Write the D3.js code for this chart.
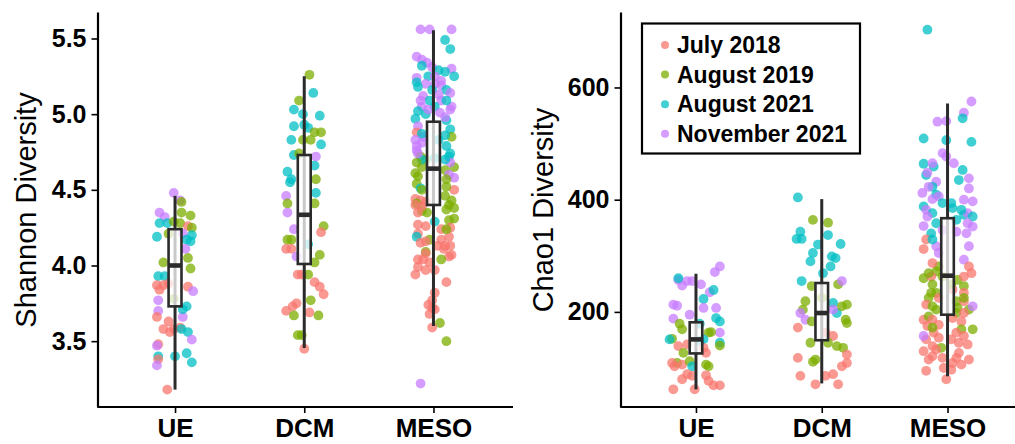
<!DOCTYPE html>
<html>
<head>
<meta charset="utf-8">
<script src="https://cdn.jsdelivr.net/npm/d3@7"></script>
<style>
  body { margin: 0; background: #fff; }
  svg { display: block; font-family: "Liberation Sans", Arial, sans-serif; }
</style>
</head>
<body>
<svg width="1015" height="444"></svg>
<script>
var sites = ["UE", "DCM", "MESO"];
var months = ["July 2018", "August 2019", "August 2021", "November 2021"];
var monthColors = ["#F8766D", "#7CAE00", "#00BFC4", "#C77CFF"];
var shannonTicks = [3.5, 4.0, 4.5, 5.0, 5.5];
var chaoTicks = [200, 400, 600];

// samples: [month index, jitter (share of category step), value]
var shannonUE = [
  [3,-0.01,4.48],[3,0.04,4.43],[1,0.05,4.42],[1,0.12,4.33],[1,0.05,4.35],[3,-0.08,4.32],[3,-0.12,4.35],
  [2,-0.12,4.28],[2,-0.06,4.28],[1,-0.01,4.29],[1,0.04,4.28],[0,0.10,4.26],[1,0.13,4.25],
  [2,-0.14,4.19],[2,0.13,4.20],[2,0.12,4.16],[3,0.06,4.21],[2,0.09,4.17],[1,-0.05,4.21],
  [1,-0.09,4.02],[1,0.10,4.05],[3,0.08,4.11],[1,0.12,3.98],[2,-0.13,3.93],[2,-0.08,3.93],
  [0,-0.14,3.87],[0,-0.09,3.87],[0,-0.12,3.84],[0,-0.05,3.88],[0,0.10,3.86],[3,0.14,3.83],
  [3,-0.13,3.77],[1,-0.01,3.78],[3,-0.13,3.70],[2,0.09,3.73],[0,-0.14,3.66],[3,0.06,3.66],
  [2,0.06,3.71],[0,-0.05,3.63],[0,-0.09,3.58],[0,-0.04,3.56],[0,-0.01,3.58],[0,0.04,3.59],
  [2,0.05,3.58],[2,0.10,3.56],[3,0.13,3.51],[0,-0.13,3.48],[3,-0.14,3.47],[2,-0.13,3.40],
  [0,-0.13,3.38],[3,-0.14,3.34],[2,0.00,3.40],[2,0.09,3.42],[2,0.13,3.36],[0,-0.06,3.18]
];
var shannonDCM = [
  [1,0.04,5.26],[2,0.07,5.14],[1,-0.04,5.09],[2,-0.08,5.03],[2,-0.01,5.00],[2,0.12,4.99],
  [2,-0.08,4.92],[2,0.00,4.93],[2,0.03,4.91],[1,0.08,4.88],[1,0.13,4.88],[2,-0.10,4.83],
  [1,-0.01,4.83],[1,0.05,4.83],[2,0.13,4.80],[2,-0.08,4.73],[1,-0.04,4.74],[3,0.09,4.72],
  [2,0.08,4.66],[2,-0.13,4.62],[2,-0.10,4.57],[2,-0.11,4.55],[1,0.09,4.57],[3,-0.14,4.46],
  [1,-0.13,4.41],[2,0.09,4.48],[1,0.08,4.41],[3,-0.13,4.35],[1,0.15,4.26],[0,0.13,4.22],
  [3,-0.08,4.24],[1,-0.13,4.17],[1,-0.10,4.17],[2,0.03,4.14],[0,-0.14,4.11],[0,-0.10,4.11],
  [3,-0.06,4.06],[1,0.12,4.07],[1,0.08,4.02],[0,-0.05,3.94],[0,-0.02,3.94],[1,0.03,3.94],
  [0,0.08,3.89],[0,0.12,3.86],[0,0.15,3.81],[1,0.05,3.77],[0,-0.06,3.75],[0,-0.09,3.73],
  [0,-0.14,3.70],[1,-0.08,3.67],[0,0.04,3.69],[1,0.11,3.67],[1,-0.05,3.54],[1,-0.02,3.54],
  [0,0.00,3.45]
];
var shannonMESO = [
  [3,-0.10,5.56],[3,-0.03,5.56],[3,0.14,5.56],[2,0.09,5.49],[2,0.13,5.43],[3,-0.13,5.38],
  [3,-0.09,5.36],[3,-0.05,5.34],[2,-0.09,5.32],[3,-0.01,5.31],[2,0.04,5.29],[3,0.14,5.30],
  [2,0.09,5.28],[2,0.16,5.25],[2,-0.04,5.25],[3,-0.13,5.24],[2,-0.13,5.21],[3,-0.06,5.20],
  [3,0.01,5.20],[3,0.06,5.19],[2,-0.12,5.18],[2,0.10,5.16],[3,0.13,5.14],[3,-0.08,5.12],
  [2,-0.03,5.09],[3,0.06,5.09],[3,-0.09,5.05],[2,0.01,5.05],[3,0.14,5.05],[3,0.13,5.03],
  [2,-0.12,5.02],[2,-0.06,5.00],[3,0.05,5.01],[2,-0.14,4.97],[2,0.10,4.96],[3,-0.12,4.92],
  [2,0.13,4.90],[0,-0.13,4.88],[3,-0.08,4.85],[1,0.14,4.85],[2,0.04,4.83],[3,-0.13,4.79],
  [2,0.10,4.79],[3,-0.13,4.76],[2,0.13,4.74],[1,-0.10,4.72],[1,-0.06,4.70],[2,0.12,4.72],
  [2,0.01,4.71],[1,0.16,4.65],[3,0.13,4.68],[1,-0.09,4.65],[1,-0.14,4.61],[1,-0.12,4.59],
  [1,0.09,4.63],[3,0.12,4.60],[3,0.16,4.58],[1,-0.13,4.54],[1,0.10,4.57],[2,-0.10,4.51],
  [0,-0.14,4.44],[0,-0.10,4.43],[0,-0.06,4.42],[1,-0.13,4.41],[0,0.16,4.50],[0,-0.14,4.40],
  [1,0.12,4.40],[1,0.16,4.38],[1,-0.09,4.36],[1,-0.05,4.35],[1,0.10,4.37],[1,0.16,4.31],
  [2,0.01,4.29],[0,-0.12,4.27],[0,-0.06,4.26],[1,0.12,4.30],[0,0.06,4.24],[0,-0.12,4.21],
  [2,-0.13,4.19],[0,0.13,4.25],[0,0.12,4.19],[0,0.06,4.17],[1,-0.03,4.17],[0,-0.10,4.15],
  [0,-0.06,4.16],[0,0.03,4.13],[0,0.08,4.11],[1,-0.06,4.09],[0,0.14,4.07],[0,0.12,4.06],
  [0,-0.08,4.04],[0,-0.03,4.02],[1,0.06,4.04],[0,-0.12,3.99],[0,-0.06,3.97],[0,0.01,3.97],
  [0,-0.14,3.94],[0,0.10,3.89],[0,0.01,3.82],[0,-0.01,3.77],[0,-0.04,3.74],[0,-0.01,3.72],
  [0,0.01,3.71],[0,-0.03,3.68],[1,0.05,3.62],[0,-0.01,3.59],[1,0.10,3.50],[3,-0.10,3.22],
  [3,0.01,5.25],[3,0.06,5.22],[2,-0.01,5.16],[3,0.04,5.13],[3,-0.10,5.09],[2,0.10,5.09],
  [3,-0.04,5.03],[3,0.09,4.98],[2,-0.09,4.87],[3,-0.14,4.83],[2,0.09,4.86],[3,-0.09,4.81],
  [2,-0.09,4.70],[1,-0.13,4.68],[2,0.09,4.70],[3,-0.12,4.74],[1,0.10,4.52],[1,0.09,4.46],
  [1,-0.09,4.50],[0,-0.09,4.39],[1,0.14,4.43],[0,-0.12,4.35],[1,0.10,4.24],[0,0.09,4.13],
  [0,-0.06,4.08],[0,-0.12,4.04],[0,0.13,4.13]
];
var chaoUE = [
  [3,0.19,281],[3,0.15,271],[3,-0.14,257],[3,-0.11,247],[3,-0.07,255],[3,-0.03,255],
  [2,-0.14,260],[3,0.04,249],[3,0.11,235],[2,0.14,239],[2,0.06,223],[3,-0.18,213],
  [3,-0.15,211],[3,0.16,207],[3,0.06,207],[3,-0.18,188],[2,0.16,189],[2,0.19,183],
  [3,-0.05,195],[2,0.03,179],[3,0.19,163],[1,-0.13,179],[1,-0.11,169],[1,-0.19,152],
  [2,-0.21,151],[1,0.10,163],[1,0.12,164],[2,0.03,148],[2,0.06,151],[2,0.19,145],
  [1,0.19,140],[0,-0.14,139],[0,-0.07,142],[1,-0.10,127],[0,0.08,127],[0,0.06,136],
  [1,-0.15,109],[0,-0.19,109],[0,-0.17,103],[0,-0.11,106],[1,-0.05,112],[1,0.08,106],
  [1,0.10,103],[2,-0.03,103],[0,-0.07,89],[0,-0.03,86],[0,0.08,87],[0,-0.11,80],
  [0,0.10,77],[0,0.14,69],[0,0.19,69],[0,-0.18,62],[0,-0.01,62]
];
var chaoDCM = [
  [2,-0.19,404],[1,-0.07,364],[1,0.05,359],[2,-0.17,343],[2,-0.20,330],[2,-0.16,330],
  [2,0.05,337],[2,-0.03,320],[2,0.15,321],[2,-0.07,305],[2,-0.09,290],[2,0.08,299],
  [2,0.11,296],[2,0.07,281],[2,0.01,269],[2,-0.16,255],[1,0.13,249],[3,0.16,255],
  [1,-0.08,246],[1,-0.13,219],[1,-0.15,204],[1,0.00,225],[3,-0.17,198],[2,0.09,216],
  [2,0.12,198],[1,0.20,213],[1,0.16,210],[3,0.09,204],[3,-0.13,186],[1,-0.08,183],
  [1,0.20,180],[1,0.19,186],[0,-0.19,172],[1,-0.09,145],[0,0.03,163],[0,0.09,157],
  [1,0.05,145],[1,0.12,139],[1,0.17,136],[0,-0.19,118],[0,0.20,124],[1,-0.05,115],
  [1,-0.07,111],[0,0.16,103],[0,0.20,109],[0,-0.17,86],[0,0.03,86],[0,0.09,89],
  [0,-0.05,71],[0,0.13,71]
];
var chaoMESO = [
  [2,-0.16,703],[3,0.19,575],[3,0.13,555],[3,-0.08,539],[3,-0.01,540],[2,0.12,545],
  [2,-0.19,509],[2,-0.01,506],[2,0.19,503],[3,-0.04,483],[3,-0.01,477],[2,-0.19,464],
  [2,-0.11,459],[3,-0.12,465],[3,0.05,465],[2,0.12,453],[2,-0.17,444],[3,-0.16,448],
  [2,0.09,435],[3,-0.09,432],[3,0.17,438],[2,-0.12,423],[3,0.17,420],[3,-0.20,412],
  [2,-0.09,409],[3,-0.12,401],[2,0.03,394],[3,0.20,397],[2,-0.19,388],[3,-0.17,382],
  [2,-0.12,376],[2,0.13,373],[2,0.04,385],[3,0.16,376],[2,0.20,370],[2,-0.09,358],
  [3,-0.19,353],[3,0.20,352],[3,0.07,343],[2,-0.13,340],[3,0.15,340],[3,-0.09,317],
  [3,-0.07,305],[3,0.17,317],[0,-0.17,329],[0,-0.19,312],[3,0.13,293],[0,0.17,281],
  [0,0.19,269],[1,-0.09,272],[1,-0.07,281],[1,-0.19,260],[0,-0.13,263],[1,0.08,257],
  [0,0.04,240],[1,-0.12,249],[1,0.13,246],[1,-0.09,234],[1,0.07,219],[0,0.13,234],
  [1,-0.15,225],[0,-0.17,213],[1,-0.09,204],[0,0.13,219],[1,0.17,204],[1,0.07,198],
  [0,-0.19,186],[1,-0.15,192],[0,0.04,189],[0,0.11,183],[3,0.20,210],[1,0.11,169],
  [1,0.20,169],[0,-0.16,175],[0,-0.11,163],[0,-0.17,151],[3,-0.19,157],[0,-0.07,154],
  [0,0.03,151],[1,-0.05,136],[0,0.09,145],[0,-0.19,130],[0,-0.12,139],[0,0.16,142],
  [0,-0.12,121],[0,-0.04,118],[0,0.07,118],[0,0.17,115],[0,-0.17,95],[0,-0.03,100],
  [0,0.03,97],[0,0.11,106],[0,-0.01,80],
  [3,-0.15,423],[3,-0.07,406],[2,-0.04,394],[3,0.13,400],[2,0.11,382],[3,-0.16,370],
  [2,0.07,364],[3,-0.04,346],[3,0.16,358],[2,-0.12,329],[0,-0.12,287],[1,-0.15,269],
  [1,-0.04,263],[0,0.13,263],[1,0.03,249],[1,-0.13,234],[0,-0.07,225],[1,0.13,225],
  [1,-0.12,210],[0,-0.12,186],[1,0.08,207],[0,0.13,198],[0,-0.07,177],[1,-0.12,172],
  [0,0.07,163],[0,0.13,157],[0,-0.09,133],[0,0.09,127],[0,-0.15,115],[0,0.04,109]
];

// box stats: [lower whisker, q1, median, q3, upper whisker]
var shannonBoxes = [[3.18, 3.73, 4.00, 4.24, 4.46], [3.455, 4.01, 4.335, 4.73, 5.25], [3.60, 4.40, 4.64, 4.95, 5.555]];
var chaoBoxes = [[62, 126, 151, 181.5, 268], [72.5, 149.5, 198, 251.5, 401], [85.5, 195, 264.5, 367, 571.5]];

var svg = d3.select("svg");
var plotTop = 12, plotBottom = 407;

function drawPanel(opt) {
    var x = d3.scalePoint().domain(sites).range([opt.left, opt.right]).padding(0.6);
    var y = d3.scaleLinear().domain(opt.domain).range([plotBottom, plotTop]);
    var step = x.step();
    var g = svg.append("g");

    // jittered samples
    opt.points.forEach(function (pts, i) {
        g.append("g").selectAll("circle")
            .data(pts)
            .enter().append("circle")
            .attr("cx", function (d) { return x(sites[i]) + d[1] * step; })
            .attr("cy", function (d) { return y(d[2]); })
            .attr("r", 4.9)
            .attr("fill", function (d) { return monthColors[d[0]]; })
            .attr("fill-opacity", 0.75);
    });

    // boxplots on top
    var bw = step * 0.1;
    var box = g.append("g").selectAll("g")
        .data(opt.boxes)
        .enter().append("g")
        .attr("transform", function (d, i) { return "translate(" + x(sites[i]) + ",0)"; });
    box.append("line")
        .attr("y1", function (d) { return y(d[0]); })
        .attr("y2", function (d) { return y(d[4]); })
        .attr("stroke", "#2b2b2b").attr("stroke-width", 3);
    box.append("rect")
        .attr("x", -bw / 2).attr("width", bw)
        .attr("y", function (d) { return y(d[3]); })
        .attr("height", function (d) { return y(d[1]) - y(d[3]); })
        .attr("fill", "#fff").attr("fill-opacity", 0.75)
        .attr("stroke", "#2b2b2b").attr("stroke-width", 2.6);
    box.append("line")
        .attr("x1", -bw / 2).attr("x2", bw / 2)
        .attr("y1", function (d) { return y(d[2]); })
        .attr("y2", function (d) { return y(d[2]); })
        .attr("stroke", "#2b2b2b").attr("stroke-width", 4.6);

    // axes
    var ya = g.append("g")
        .attr("transform", "translate(" + opt.left + ",0)")
        .call(d3.axisLeft(y).tickValues(opt.ticks).tickFormat(opt.fmt).tickSize(6).tickSizeOuter(0).tickPadding(5));
    ya.selectAll("text").attr("font-size", 25).attr("font-weight", "bold").attr("fill", "#000")
        .attr("font-family", "'Liberation Sans', Arial, sans-serif");
    ya.selectAll("line").attr("stroke-width", 1.6);
    ya.select(".domain").attr("stroke-width", 2.2);

    var xa = g.append("g")
        .attr("transform", "translate(0," + plotBottom + ")")
        .call(d3.axisBottom(x).tickSize(6).tickSizeOuter(0).tickPadding(6));
    xa.selectAll("text").attr("font-size", 26).attr("font-weight", "bold").attr("fill", "#000")
        .attr("font-family", "'Liberation Sans', Arial, sans-serif");
    xa.selectAll("line").attr("stroke-width", 1.6);
    xa.select(".domain").attr("stroke-width", 2.2).attr("d", "M" + opt.left + ",0H" + opt.axisEnd);

    svg.append("text")
        .attr("transform", "translate(" + opt.titleX + ",210) rotate(-90)")
        .attr("text-anchor", "middle")
        .attr("font-size", 29)
        .text(opt.title);
}

drawPanel({
    left: 97.5, right: 511, axisEnd: 513, domain: [3.065, 5.675],
    ticks: shannonTicks, fmt: d3.format(".1f"),
    points: [shannonUE, shannonDCM, shannonMESO], boxes: shannonBoxes,
    title: "Shannon Diversity", titleX: 36
});
drawPanel({
    left: 620.5, right: 1023, axisEnd: 1015, domain: [30.5, 734.5],
    ticks: chaoTicks, fmt: d3.format("d"),
    points: [chaoUE, chaoDCM, chaoMESO], boxes: chaoBoxes,
    title: "Chao1 Diversity", titleX: 553
});

// legend
var legend = svg.append("g");
legend.append("rect")
    .attr("x", 642).attr("y", 23.5).attr("width", 218).attr("height", 130)
    .attr("fill", "#fff").attr("stroke", "#000").attr("stroke-width", 2.2);
var item = legend.selectAll("g")
    .data(months)
    .enter().append("g")
    .attr("transform", function (d, i) { return "translate(665," + (45 + i * 29.6) + ")"; });
item.append("circle")
    .attr("r", 4)
    .attr("fill", function (d, i) { return monthColors[i]; })
    .attr("fill-opacity", 0.75);
item.append("text")
    .attr("x", 12).attr("dy", "0.36em")
    .attr("font-size", 23).attr("font-weight", "bold")
    .text(function (d) { return d; });
</script>
</body>
</html>
